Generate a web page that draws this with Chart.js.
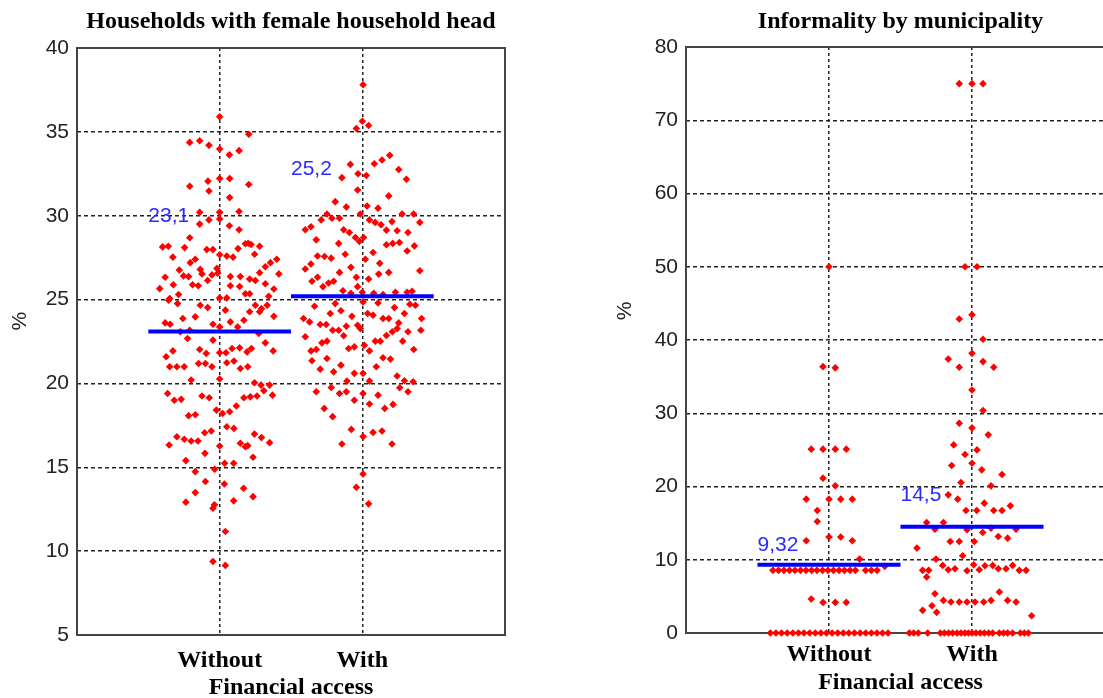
<!DOCTYPE html>
<html><head><meta charset="utf-8">
<script src="https://cdn.jsdelivr.net/npm/chart.js@4.4.1/dist/chart.umd.min.js"></script>
<style>
html,body{margin:0;padding:0;background:#fff;overflow:hidden;width:1103px;height:698px;}
#p1{position:absolute;left:0;top:0;}
#p2{position:absolute;left:560px;top:0;}
</style></head><body>
<canvas id="p1" width="551" height="720"></canvas>
<canvas id="p2" width="580" height="720"></canvas>
<script>
// ---------- data ----------
const categories = ['Without', 'With'];
const xTickValues = [1, 2];

const femaleTitle = 'Households with female household head';
const femaleYTicks = [5, 10, 15, 20, 25, 30, 35, 40];
const femaleMeans = [23.1, 25.2];
const femaleMeanText = ['23,1', '25,2'];
const femaleMeanLabelY = [30, 32.8];
// [offset from category, value %]
const femaleWithout = [
[0,35.9],[0.204,34.86],[-0.21,34.37],[-0.14,34.47],[-0.075,34.2],[0,33.98],[0.068,33.63],[0.136,33.88],
[-0.21,31.76],[-0.082,32.06],[-0.075,31.47],[0,32.22],[0.07,32.22],[0.204,31.86],[0.07,31.08],
[-0.14,30.2],[0,30.2],[0.136,30.25],[-0.075,29.75],[-0.14,29.5],[0,29.8],[0.068,29.4],[0.136,29.16],
[-0.21,28.69],[-0.4,28.14],[-0.36,28.18],[-0.246,28.1],[-0.09,27.98],[-0.047,27.98],[0,27.67],[0.05,27.6],[0.094,27.53],[0.129,28.04],[0.18,28.33],[0.2,28.36],[0.22,28.28],[0.28,28.18],[0.245,27.7],
[-0.328,27.53],[-0.206,27.2],[-0.171,27.4],[-0.283,26.76],[-0.136,26.8],[-0.019,26.86],[-0.253,26.41],[-0.218,26.37],[-0.124,26.53],[-0.054,26.47],[-0.014,26.57],[0.075,26.37],[0.145,26.37],[0.32,26.96],[0.356,27.2],[0.4,27.4],[0.28,26.6],[0.415,26.53],
[-0.382,26.33],[-0.42,25.65],[-0.325,25.88],[-0.19,25.88],[-0.15,25.82],[-0.084,26.14],[0.075,25.82],[0.14,25.78],[0.21,26.22],[0.25,26.14],[0.32,25.94],
[-0.35,25.06],[-0.288,25.3],[0,25.1],[0.05,25.1],[0.18,25.35],[0.21,25.35],[0.38,25.63],[0.344,25.2],
[-0.358,24.96],[-0.295,24.76],[-0.136,24.66],[-0.084,24.52],[0.04,24.37],[0.25,24.66],[0.293,24.46],[0.333,24.66],[0.38,24.0],[0.28,24.27],[0.21,24.27],[0.17,23.77],[0.075,23.67],[0.126,23.37],[-0.047,23.53],[-0.171,23.97],[-0.258,23.87],[-0.382,23.61],[-0.347,23.53],[-0.21,23.17],[-0.276,23.08],[0,23.37],
[-0.225,22.68],[-0.047,22.58],[0.274,22.98],[0.32,22.42],[0.375,21.94],[-0.328,21.94],[-0.375,21.59],[-0.14,22.02],[-0.094,21.79],[0,21.83],[0.044,21.83],[0.087,22.08],[0.14,22.12],[0.192,21.88],[0.222,22.08],
[-0.35,20.99],[-0.3,20.99],[-0.248,20.99],[-0.148,21.19],[-0.1,21.19],[-0.054,20.99],[0.05,21.23],[0.1,21.33],[0.145,20.89],[0.197,20.99],[-0.2,20.2],[0,20.26],[0.244,20.04],[0.29,19.9],[0.35,19.9],[0.31,19.56],[0.37,19.3],
[-0.365,19.4],[-0.318,19.0],[-0.27,19.05],[-0.124,19.25],[-0.073,19.15],[0.17,19.15],[0.215,19.2],[0.262,19.25],[-0.023,18.41],[0.02,18.21],[0.07,18.31],[0.117,18.65],[-0.218,18.08],[-0.171,18.13],[0.05,17.42],[0.1,17.32],
[-0.3,16.82],[-0.248,16.67],[-0.2,16.57],[-0.152,16.57],[-0.105,17.06],[-0.059,17.16],[-0.354,16.33],[0,16.27],[0.145,16.43],[0.18,16.23],[0.197,16.29],[0.244,16.98],[0.293,16.77],[0.35,16.47],
[0.234,15.6],[-0.103,15.83],[-0.237,15.4],[0.035,15.24],[0.098,15.24],[-0.171,14.74],[-0.035,14.88],[-0.1,14.15],[0.033,14.0],[0.168,13.75],[-0.171,13.49],[0.234,13.25],[-0.237,12.92],[0.098,13.0],[-0.047,12.56],[-0.037,12.76],[0.04,11.17],[-0.047,9.38],[0.04,9.15]
];
const femaleWith = [
[0.005,37.81],[0,35.63],[-0.042,35.2],[0.044,35.38],
[-0.084,33.06],[0.084,33.1],[0.138,33.32],[0.192,33.6],[0.255,32.76],[0.309,32.17],[-0.143,32.27],[-0.03,32.5],[0.028,32.4],[-0.033,31.53],[0.185,31.18],
[-0.19,30.84],[-0.112,30.52],[0.033,30.58],[0.11,30.45],[-0.014,30.1],[-0.248,30.1],[-0.288,29.75],[-0.213,29.85],[-0.16,29.85],[0.05,29.75],[0.09,29.6],[0.131,29.46],[0.169,29.14],[0.208,29.65],[0.279,30.1],[0.36,30.1],[0.403,29.6],
[-0.4,29.16],[-0.36,29.34],[-0.131,29.16],[-0.091,29.0],[-0.049,28.7],[-0.021,28.47],[0.009,28.7],[0.244,29.1],[0.32,29.0],
[-0.323,28.56],[-0.166,28.35],[0.169,28.27],[0.213,28.35],[0.26,28.4],[0.365,28.2],[0.314,27.9],[0.075,27.81],[-0.12,27.7],[-0.314,27.6],[-0.265,27.57],[-0.218,27.47],[0.021,27.4],[0.122,27.16],
[-0.36,27.12],[-0.4,26.82],[-0.16,26.62],[-0.08,26.92],[0.185,26.62],[0.115,26.52],[0.403,26.72],
[-0.353,26.09],[-0.314,26.33],[-0.276,25.77],[-0.237,25.99],[-0.201,26.09],[-0.042,26.33],[0.044,26.23],[-0.033,25.77],[-0.136,25.53],[0.232,25.44],[0.314,25.44],[0.349,25.5],[0,25.44],[0.08,25.38],[-0.08,25.38],[0.145,25.3],
[-0.335,24.6],[-0.19,24.76],[0.005,24.86],[0.11,24.8],[0.225,24.52],[0.333,24.72],[0.372,24.66],[-0.225,24.17],[-0.15,24.33],[0.037,24.17],[0.075,24.07],
[-0.412,23.87],[-0.37,23.67],[-0.295,23.51],[-0.253,23.51],[-0.073,24.0],[-0.112,23.41],[-0.033,23.47],[-0.014,23.27],[0.145,23.87],[0.185,23.87],[0.255,23.61],[0.244,23.27],[0.21,23.08],[0.295,24.17],[0.415,23.87],[0.41,23.17],[0.32,23.08],
[-0.208,23.17],[-0.166,23.17],[-0.131,22.84],[-0.4,22.78],[0.169,22.86],[-0.283,22.42],[-0.248,22.52],[0.091,22.52],[0.126,22.52],[0.283,22.52],[0.014,22.28],[-0.096,22.08],[-0.056,22.18],[0.05,21.94],[0.36,22.02],
[-0.36,21.94],[-0.323,22.02],[-0.248,21.49],[-0.353,21.35],[0.145,21.53],[0.197,21.45],[-0.15,21.09],[0.098,20.99],[-0.295,20.85],[-0.201,20.69],[-0.056,20.6],[0.005,20.6],[0.244,20.44],[0.295,20.16],[0.356,20.1],[-0.108,20.14],[0.05,20.14],
[0.262,19.74],[0.32,19.5],[-0.323,19.5],[-0.218,19.76],[-0.16,19.4],[-0.112,19.5],[0.005,19.4],[0.11,19.3],[-0.056,19.0],[0.05,18.77],[0.215,18.75],[0.157,18.51],[-0.267,18.51],[-0.208,18.02],
[-0.077,17.26],[0.075,17.08],[0.138,17.16],[0.005,16.83],[-0.143,16.39],[0.208,16.39],[0.005,14.6],[-0.042,13.81],[0.044,12.82]
];

const informalTitle = 'Informality by municipality';
const informalYTicks = [0, 10, 20, 30, 40, 50, 60, 70, 80];
const informalMeans = [9.32, 14.5];
const informalMeanText = ['9,32', '14,5'];
const informalMeanLabelY = [12.0, 18.8];
const informalWithout = [
[0,50],[-0.042,36.36],[0.044,36.2],
[-0.124,25.1],[-0.042,25.1],[0.044,25.1],[0.121,25.1],
[-0.042,21.14],[0.044,20.1],
[-0.159,18.27],[0,18.27],[0.082,18.27],[0.163,18.27],
[-0.082,16.73],[-0.082,15.23],
[-0.159,12.6],[0,13.1],[0.082,13.1],[0.163,12.6],
[0.214,10.09],[0.39,9.1],
[-0.392,8.55],[-0.353,8.55],[-0.315,8.55],[-0.276,8.55],[-0.238,8.55],[-0.199,8.55],[-0.161,8.55],[-0.122,8.55],[-0.084,8.55],[-0.045,8.55],[-0.007,8.55],[0.031,8.55],[0.07,8.55],[0.108,8.55],[0.147,8.55],[0.185,8.55],[0.256,8.55],[0.296,8.55],[0.336,8.55],
[-0.124,4.64],[-0.042,4.18],[0.044,4.18],[0.121,4.18],
[-0.41,0],[-0.371,0],[-0.332,0],[-0.292,0],[-0.253,0],[-0.214,0],[-0.175,0],[-0.135,0],[-0.096,0],[-0.057,0],[-0.018,0],[0.022,0],[0.061,0],[0.1,0],[0.139,0],[0.178,0],[0.218,0],[0.257,0],[0.296,0],[0.335,0],[0.374,0],[0.413,0]
];
const informalWith = [
[-0.089,75],[0,75],[0.077,75],
[-0.049,50],[0.035,50],
[-0.089,42.86],[0,43.45],[0.077,40.1],
[0,38.18],[-0.166,37.4],[-0.089,36.27],[0.077,37.05],[0.152,36.27],
[0,33.18],[0.077,30.36],[-0.089,28.64],[0,28.0],[0.114,27.05],[-0.128,25.68],[0.035,25.0],[-0.049,24.36],[-0.142,22.86],[0,23.18],[0.068,22.27],[0.21,21.64],
[-0.077,20.55],[0.133,20.09],[-0.166,18.86],[-0.1,18.27],[0.086,17.73],[0.268,17.36],
[-0.042,16.73],[0.033,16.73],[0.152,16.73],[0.21,16.73],
[-0.317,15.09],[-0.2,15.09],[-0.259,14.18],[-0.035,14.09],[0.075,13.73],[0.133,14.32],[0.308,14.18],[0.184,13.18],[0.249,12.95],
[-0.152,12.5],[-0.089,12.5],[0.016,12.5],[-0.385,11.59],[-0.065,10.55],[-0.252,10.09],
[0.012,9.32],[0.051,8.64],[-0.205,9.23],[-0.166,8.64],[-0.119,8.77],[-0.035,8.5],[0.091,9.18],[0.145,9.23],[0.184,8.77],[0.238,8.77],[0.284,9.23],[0.331,8.55],[0.378,8.55],[-0.345,8.55],[-0.303,8.55],[-0.317,7.64],
[-0.259,5.36],[-0.2,4.45],[-0.147,4.23],[-0.089,4.23],[-0.035,4.23],[0.021,4.23],[0.082,4.23],[0.133,4.45],[0.191,5.59],[0.249,4.45],[0.308,4.23],
[-0.28,3.73],[-0.345,3.09],[-0.247,2.82],[0.417,2.36],
[-0.438,0],[-0.408,0],[-0.375,0],[-0.31,0],[-0.221,0],[-0.193,0],[-0.163,0],[-0.135,0],[-0.105,0],[-0.077,0],[-0.049,0],[-0.025,0],[0,0],[0.028,0],[0.058,0],[0.086,0],[0.117,0],[0.145,0],[0.191,0],[0.221,0],[0.249,0],[0.284,0],[0.338,0],[0.366,0],[0.394,0]
];

// ---------- drawing ----------
const SERIF = "'Liberation Serif','Times New Roman',serif";
const SANS = "'Liberation Sans',Arial,sans-serif";

function panel(id, o) {
  const datasets = [];
  o.means.forEach((m, i) => datasets.push({
    data: [{x: xTickValues[i] - 0.5, y: m}, {x: xTickValues[i] + 0.5, y: m}],
    showLine: true, borderColor: '#0000ff', borderWidth: 4, pointRadius: 0, order: 0
  }));
  o.groups.forEach((g, i) => datasets.push({
    data: g.map(([dx, v]) => ({x: xTickValues[i] + dx, y: v})),
    showLine: false, pointStyle: 'rectRot', pointRadius: 3.8, clip: false,
    backgroundColor: '#ff0000', borderWidth: 0, order: 1
  }));

  const meanLabels = {
    id: 'meanLabels',
    afterDatasetsDraw(chart) {
      const {ctx, scales: {x, y}} = chart;
      ctx.save();
      ctx.font = '21px ' + SANS;
      ctx.fillStyle = '#2a2aff';
      ctx.textAlign = 'left';
      ctx.textBaseline = 'middle';
      o.meanText.forEach((t, i) => ctx.fillText(t, x.getPixelForValue(xTickValues[i] - 0.5), y.getPixelForValue(o.labelY[i])));
      ctx.restore();
    }
  };
  const frame = {
    id: 'frame',
    beforeDatasetsDraw(chart) {
      const a = chart.chartArea, ctx = chart.ctx;
      ctx.save();
      ctx.strokeStyle = '#444';
      ctx.lineWidth = 2;
      ctx.strokeRect(a.left, a.top, a.right - a.left, a.bottom - a.top);
      ctx.restore();
    }
  };

  return new Chart(document.getElementById(id), {
    type: 'scatter',
    data: {datasets},
    plugins: [meanLabels, frame],
    options: {
      responsive: false, animation: false, events: [],
      layout: {padding: {left: 0, right: o.padRight, top: 0, bottom: 0}},
      plugins: {
        legend: {display: false}, tooltip: {enabled: false},
        title: {display: true, text: o.title, fullSize: false, color: '#000',
          font: {family: SERIF, size: 24, weight: 'bold', lineHeight: 1},
          padding: {top: 10, bottom: o.titleBottom}}
      },
      scales: {
        x: {
          type: 'linear', min: 0, max: 3,
          afterBuildTicks: (s) => { s.ticks = xTickValues.map(v => ({value: v})); },
          afterFit: (s) => { s.height = o.xHeight; },
          ticks: {callback: (v) => categories[v - 1], color: '#000', maxRotation: 0, autoSkip: false,
            padding: o.xTickPad, font: {family: SERIF, size: 24, weight: 'bold', lineHeight: 1}},
          grid: {color: '#222', lineWidth: 1.5, drawTicks: false},
          border: {display: false, dash: [3, 3]},
          title: {display: true, text: 'Financial access', color: '#000',
            font: {family: SERIF, size: 24, weight: 'bold', lineHeight: 1},
            padding: {top: 0, bottom: o.xTitleBottom}}
        },
        y: {
          min: o.yTicks[0], max: o.yTicks[o.yTicks.length - 1],
          afterBuildTicks: (s) => { s.ticks = o.yTicks.map(v => ({value: v})); },
          afterFit: (s) => { s.width = o.yWidth; },
          ticks: {color: '#222', padding: 8, font: {family: SANS, size: 21, lineHeight: 1}},
          grid: {color: '#222', lineWidth: 1.5, drawTicks: false},
          border: {display: false, dash: [4, 3]},
          title: {display: true, text: o.yTitle, color: '#222',
            font: {family: SANS, size: 21, lineHeight: 1},
            padding: {top: o.yTitlePad, bottom: 0}}
        }
      }
    }
  });
}

panel('p1', {
  title: femaleTitle, yTicks: femaleYTicks, means: femaleMeans, meanText: femaleMeanText,
  labelY: femaleMeanLabelY, groups: [femaleWithout, femaleWith],
  padRight: 46, titleBottom: 14, xHeight: 85, xTickPad: 14, xTitleBottom: 20,
  yWidth: 77, yTitlePad: 9.5, yTitle: '       %'
});
panel('p2', {
  title: informalTitle, yTicks: informalYTicks, means: informalMeans, meanText: informalMeanText,
  labelY: informalMeanLabelY, groups: [informalWithout, informalWith],
  padRight: 25, titleBottom: 13, xHeight: 87, xTickPad: 10, xTitleBottom: 25,
  yWidth: 126, yTitlePad: 54.5, yTitle: '          %'
});
</script></body></html>
